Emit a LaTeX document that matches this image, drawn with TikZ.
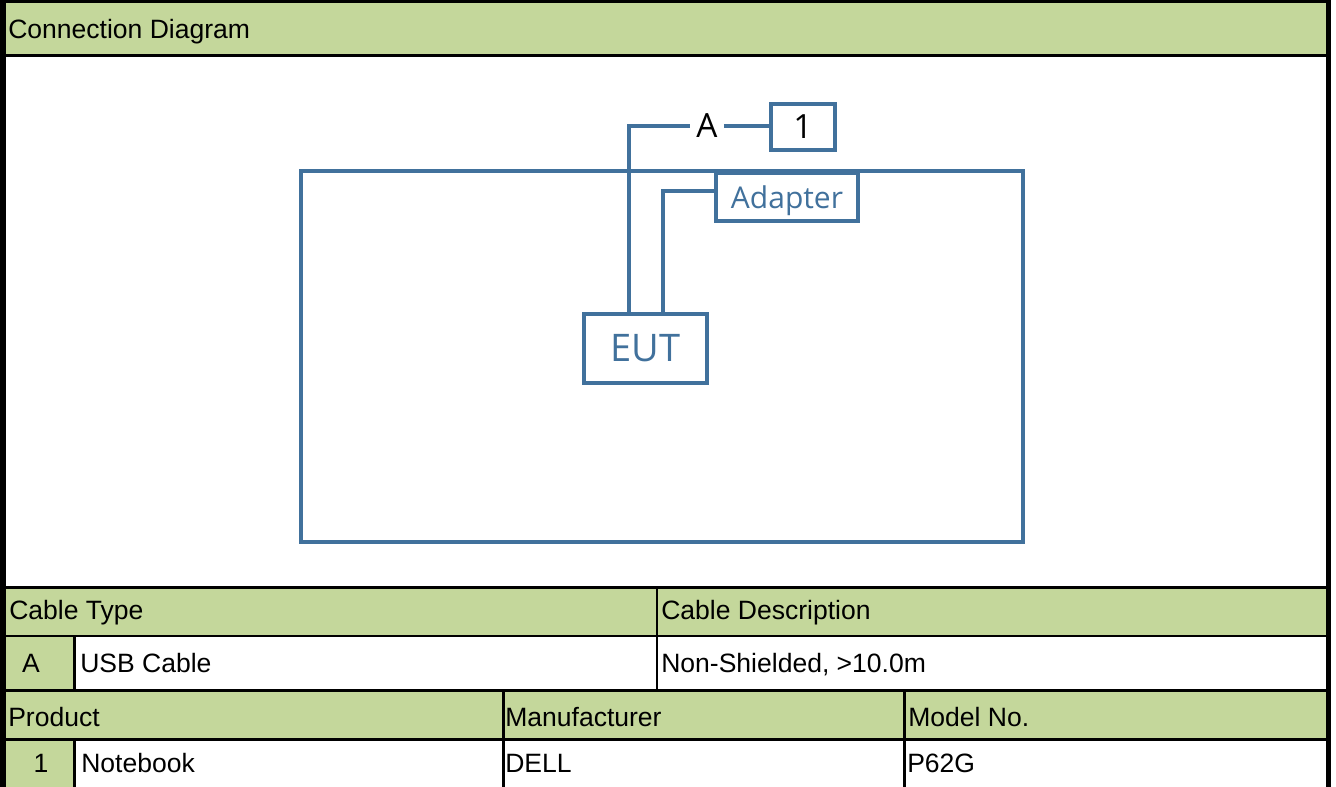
\documentclass[tikz,border=0pt]{standalone}
\usepackage{fontspec}
\setmainfont{Liberation Sans}
\newfontfamily\diafont{Open Sans}
\usepackage{tikz}
\usetikzlibrary{positioning,calc}
\definecolor{hdrgreen}{RGB}{196,215,155}
\definecolor{cableblue}{RGB}{65,113,156}

\begin{document}
\begin{tikzpicture}[x=0.75pt, y=-0.75pt,
    cell/.style={anchor=base west, inner sep=0pt, font=\fontsize{19.9}{23}\selectfont},
    grid/.style={black, line width=2.2pt},
    box/.style={rectangle, draw=cableblue, fill=white, line width=2.4pt, inner sep=0pt, text=cableblue},
    cable/.style={cableblue, line width=2.4pt}
]
    \useasboundingbox (0,0) rectangle (1336,787);

    % table background
    \fill[hdrgreen] (0,0) rectangle (1328,55.5);
    \fill[hdrgreen] (0,587.5) rectangle (1328,636);
    \fill[hdrgreen] (0,636) rectangle (74.7,690.5);
    \fill[hdrgreen] (0,690.5) rectangle (1328,739.5);
    \fill[hdrgreen] (0,739.5) rectangle (74.7,787);

    \draw[grid] (0,55.5) -- (1328,55.5)
                (0,587.5) -- (1328,587.5)
                (0,636) -- (1328,636)
                (0,690.5) -- (1328,690.5)
                (0,739.5) -- (1328,739.5);
    \draw[grid] (74.7,636) -- (74.7,690.5)
                (74.7,739.5) -- (74.7,787)
                (657,587.5) -- (657,690.5)
                (503.3,690.5) -- (503.3,787)
                (904.3,690.5) -- (904.3,787);
    \draw[black, line width=4.5pt] (3,787) -- (3,0);
    \draw[black, line width=2.25pt] (0,1.5) -- (1331,1.5);
    \draw[black, line width=3.5pt] (1328.3,0) -- (1328.3,787);

    \node[cell] (title) at (8,39) {Connection Diagram};
    \node[cell] (ctype) at (9,620) {Cable Type};
    \node[cell] (cdesc) at (661,620) {Cable Description};
    \node[cell, anchor=base] (cid) at (31,673) {A};
    \node[cell] (cname) at (80,673) {USB Cable};
    \node[cell] (cspec) at (661,673) {Non-Shielded, >10.0m};
    \node[cell] (prod) at (8,726) {Product};
    \node[cell] (manu) at (505,726) {Manufacturer};
    \node[cell] (model) at (908,726) {Model No.};
    \node[cell, anchor=base] (pid) at (41,773) {1};
    \node[cell] (pname) at (81,773) {Notebook};
    \node[cell] (pmaker) at (505,773) {DELL};
    \node[cell] (pmodel) at (907,773) {P62G};

    % connection diagram
    \node[box, minimum width=541.5pt, minimum height=278.3pt] (room) at (662,356.5) {};
    \node[box, minimum width=106.5pt, minimum height=36pt, text depth=0pt,
          font=\diafont\fontsize{22.5}{26}\selectfont] (adapter) at (787,197) {Adapter};
    \node[box, minimum width=92.3pt, minimum height=51.8pt,
          font=\diafont\fontsize{28.5}{32}\selectfont] (eut) at (645.5,348.5) {EUT};
    \node[box, text=black, minimum width=48pt, minimum height=34.5pt,
          font=\diafont\fontsize{25}{29}\selectfont] (pc) at (803,127) {1};
    \node[inner sep=0pt, inner xsep=4.5pt, font=\diafont\fontsize{25}{29}\selectfont] (lblA) at (707,126) {A};

    \draw[cable] ([xshift=-12.4pt]eut.north) |- (lblA.west);
    \draw[cable] (lblA.east) -- (pc.west |- lblA.east);
    \draw[cable] ([xshift=13.1pt]eut.north) |- ([yshift=4.5pt]adapter.west);
\end{tikzpicture}
\end{document}
